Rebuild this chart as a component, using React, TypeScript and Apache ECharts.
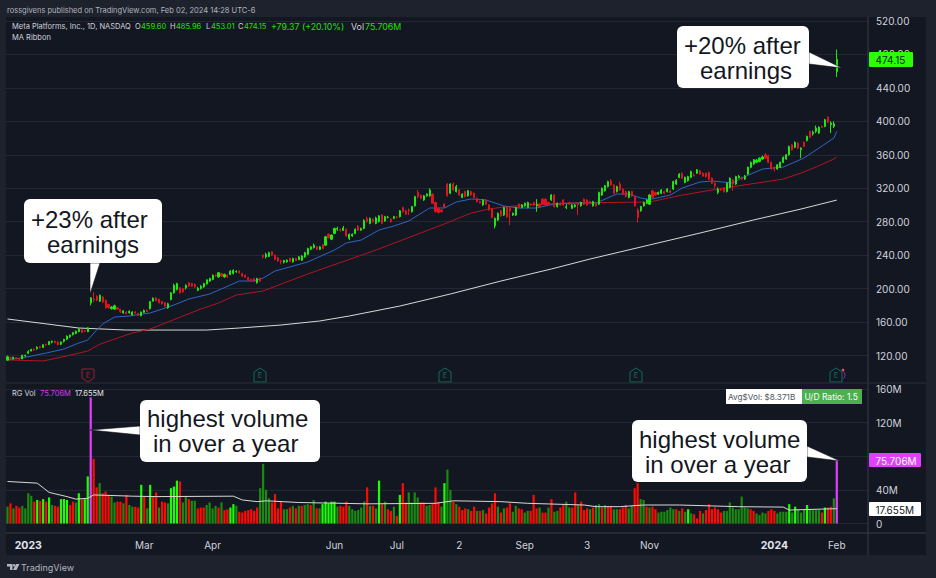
import React, { useEffect, useRef } from "react";
import * as echarts from "echarts";

const BAR_SLOTS = 290;

const xLabels: Record<number, string> = {
  7: "{b|2023}", 46: "Mar", 69: "Apr", 110: "Jun", 131: "Jul", 152: "2",
  174: "Sep", 195: "3", 216: "Nov", 258: "{b|2024}", 279: "Feb",
};

// open, close, low, high
const candles: number[][] = [
  [114.5,118.5,114,120],[117.5,117.1,115,118.5],[116,118,115.5,118.5],[117.5,116.9,115.5,118],[116.5,115.6,115,117],[116,120.3,115.8,121],[119.5,120.3,118.5,121],[122.8,124.7,122,126.5],[125.5,127.4,125,128],[127.5,126.9,125.5,128.5],
  [128,130,127,131],[130.5,129.5,128.5,131.5],[129.5,133,129,133.5],[133.5,132.9,131.5,134],[133,136.7,132.8,137],[136,137,134.5,138],[137,135.4,134.5,138],[136,133,132.5,137],[133.5,136.2,132.5,137],[137,139.4,135.5,140],
  [139.5,143.3,138.5,144],[142.5,144.5,141,145],[145,147.5,144,148],[146.5,149,145.5,150],[148.5,152,148,153],[151,147.5,147,152],[149.5,149,148,150.5],[148.5,153.1,148,154],[182.8,189,180,190],[187.5,186.5,184,196],
  [191,186,185,192],[185,192,184,193],[190,184,183,191],[186,177,176,187],[181,177.5,176,182],[176,178,175,179],[175.5,179.5,175,181],[177,175.5,175,178],[175,172.5,171,176],[171,173.5,170,174],
  [172,170,169.5,173],[171,173,170,174],[168.5,172,168,173],[172,171,170,173],[170.5,168,167.5,171],[167.5,172,167,172.5],[171.5,174,171,175],[174,172.5,172,175],[176,184.5,175,185],[185,188.5,184.5,189.5],
  [188.5,185.5,185,190],[187.5,183,182.5,188],[184.5,182,181,185],[183,179,178,184],[177,182,176,183],[187,195,186,196],[195,204,194,206],[199,206,198,207],[201,195,194,202],[200,196,195,201],
  [201,204,199,205],[207,203,202,208],[206,203,202,207],[205,202,201,206],[198,200.5,197,202],[200,203,199,204],[202,206,201,207],[205.5,210.5,205,211],[209,212,208,213],[211,216,210,217],
  [216,215.5,214,217],[214,219,213,220],[218,215,214,219],[214,217,213,218],[216,214,213,217],[217,221,216,222],[218,222,217,223],[220,220.5,219,222],[221,219,218,222],[218,215,214,219],
  [216,213.5,213,217],[213,210,209,214],[211,209.5,209,212],[212,209,208,213],[207,212,206,213],[212,209,208,213],[240,238,236,241],[238,241,236,243],[238.5,243,238,244],[244,240,239,245],
  [240,235,234,241],[237,233,232,238],[233,232.5,229,234.5],[231.5,233.5,230,234.5],[232,234,231,235],[236,232.5,232,237],[232,236,231,237],[236,233.5,233,237],[234.5,238,234,239],[234,239,233,240],
  [238,243,237,244],[241,248,240,249],[247,250,246,251],[249,252,248,254],[250,247,246,251],[247,250,246,251],[252.5,248,247,253],[252,262,251,263],[265,261,260,266],[259,264,258,265],
  [266,272,265,273],[271,272,269,274],[270.5,270,268,272],[269.5,272.5,269,275],[271,263,262,272],[260,265,258,266],[263,265,262,266],[266,271,265,272],[274.5,269.5,269,276],[270,272,269,273],
  [272,281.5,271,283],[284,280,279,286],[278,284,277,285],[283,280,279,284],[278,284.5,277,286],[280,287,279,288],[288,278,277,289],[281,286,280,287],[285,285.5,284,287],[283,280,279,284],
  [284,286,283,287],[285.5,285,284,287],[286,293,285,294],[297,292,291,298],[293,289,288,294],[294,293,288,296],[292,298,291,299],[299,310,298,311],[315,310,308,318],[311,308,307,313],
  [306,311,305,312],[311,313,310,314],[311,318,310,320],[313,302,301,314],[303,292,291,304],[296,291,290,297],[294,292,291,295],[301,297,296,302],[325,311,310,326],[314,325,313,326],
  [325,318,317,327],[316,322,315,324],[318,312,311,319],[309,313,308,314],[316,310,309,317],[311,317,310,318],[316,312,311,317],[314,309,308,315],[308,304,303,309],[304,302.5,302,305],
  [300,306,299,307],[306,301,300,307],[300,295,293,301],[295,285,284,296],[275,284,272,285],[282,290,281,291],[293,287,286,294],[288,297,287,298],[298,286,285,299],[296,293,276,298],
  [288,290,287,291],[288,297,287,298],[301,297,296,302],[297,300,296,301],[299,302,298,303],[297,303,296,304],[301,300,299,302],[303,300,299,304],[299,301,292,307],[301,298,297,302],
  [307,301,300,308],[307,300,299,308],[303,301,300,304],[306,312,305,313],[312,298,297,313],[298,302,297,303],[302,300,299,303],[306,300,299,307],[297,298,295,301],[303,301,300,304],
  [296,300,295,301],[298,300,297,301],[302,300,288,303],[299,303,298,304],[307,301,300,308],[306,300,299,307],[304,302,301,305],[299,304,298,305],[302,299,298,303],[301,315,300,316],
  [312,320,311,321],[317,323,316,324],[322,328,321,329],[329,324,323,331],[324,314,313,325],[316,322,315,323],[325,318,317,328],[319,313,312,320],[316,310,309,317],[309,316,308,317],
  [316,311,310,317],[310,299,298,311],[294,285,279,296],[293,298,292,299],[299,303,298,304],[302,306,301,307],[301,312,300,313],[317,309,308,318],[315,312,311,316],[313,315,312,316],
  [314,318,313,319],[316,314,313,317],[316,319,315,320],[317,315,314,318],[319,328,318,329],[325,329.5,324,331],[333,337,332,338],[338,332,331,339],[327,333,326,334],[329,334,328,335],
  [333,340,332,341],[335.5,335,334,338],[338,342,337,343],[341,337,336,342],[338,334.5,334,339],[338,334,333,339],[339,331,330,340],[332,326,325,333],[326,323,320,327],[315,319,313,321],
  [319,318,317,320],[320,316,315,321],[316,326,315,327],[321,332,320,333],[330,325,317,331],[325,334,324,335],[332.5,334.5,332,336],[333,331,330,334],[331,334.5,330,336],[337,345,336,346],
  [345,351,344,352],[349,354,348,355],[351,353.5,350,355],[352,356,351,357],[355,357.5,354,359],[360,356,355,362],[359,351,350,360],[351,344,342,352],[345,343,340,346],[343,348,342,349],
  [345,351,344,352],[351,357,350,358],[355,360,354,361],[360,370,359,371],[372,366,365,373],[369,375,368,376],[374,368,367,375],[366,368,356,369],[375,370,369,376],[377,382,376,383],
  [388,381,380,389],[385,387,383,389],[388,392,386,395],[386,393,385,394],[394,393,392,395],[394,402,393,403],[405,399,398,406],[396,398,386,400],[394,397,392,400],[459.6,474.15,453.01,485.96],
];

// [bar index, price]
const maBlue: number[][] = [[0,114.7],[6,117.9],[13,123],[19,127.8],[24,135],[27,138.6],[30,150.5],[32,157.7],[36,166],[41,167.3],[48,170.9],[53,176.8],[56,180.4],[61,187.6],[68,193.6],[75,204.3],[78,209.1],[83,209.1],[86,212.7],[90,221.1],[95,225.9],[101,231.9],[110,246.2],[114,254.6],[119,258.1],[125,270.1],[130,274.9],[135,280.9],[142,296.4],[147,296.4],[151,303.6],[156,307.2],[161,306],[167,298.8],[172,296.4],[178,296.4],[184,301.2],[192,302.4],[198,302.4],[205,313.1],[209,313.1],[213,308.4],[216,306.5],[223,311.9],[227,320.3],[233,327.5],[237,328.7],[244,326.3],[247,332.3],[254,343],[261,345.4],[268,356.2],[273,368.1],[278,380],[279,388]];
const maRed: number[][] = [[0,114.7],[12,113.5],[20,119.5],[27,125.4],[31,133.4],[37,140.9],[42,146.9],[48,151.7],[65,175.6],[71,182.8],[77,192.4],[86,197.2],[93,206.7],[101,217.5],[124,246.2],[131,255.7],[139,266.5],[147,277.3],[156,290.4],[162,295.2],[167,297.6],[174,300],[189,302.4],[216,303.6],[227,311.9],[239,319.1],[250,325.1],[261,331],[267,338.3],[272,345.4],[278,355],[279,357.4]];
const maWhite: number[][] = [[0,163.7],[24,152.9],[40,150.5],[67,150.5],[78,152.9],[92,156.5],[105,161.3],[115,167.3],[132,179.2],[149,193.6],[166,209.1],[183,223.5],[196,235.4],[206,243.8],[216,252.2],[233,266.5],[251,282.1],[267,295.2],[279,305.9]];

// volume in millions
const volumes: number[] = [
  20,24,18,21,19,21,18,36,33,26, 28,27,29,26,31,22,21,20,29,29,
  28,22,26,25,36,29,29,56,150,77, 43,48,36,38,34,32,25,26,26,24,
  34,22,20,20,19,46,32,18,46,32, 37,19,26,25,24,42,44,51,50,25,
  32,29,27,27,18,19,19,22,25,18, 21,19,25,16,17,19,23,21,14,13,
  15,16,17,15,19,42,71,40,30,25, 35,18,26,17,17,19,21,18,21,21,
  22,23,22,28,18,18,23,26,24,26, 26,20,21,20,26,21,17,15,16,19,
  26,43,21,21,18,51,23,26,17,15, 20,9,34,48,25,37,25,37,31,25,
  25,21,22,23,43,25,20,48,64,40, 26,23,20,16,18,17,15,20,15,15,
  16,12,19,24,36,20,13,18,19,24, 14,21,18,17,13,15,15,34,18,19,
  13,13,19,29,14,15,19,22,26,19, 19,37,22,26,16,18,17,19,22,23,
  19,22,21,21,17,17,17,19,22,18, 21,42,48,29,28,20,19,20,17,13,
  14,14,16,19,17,17,15,18,14,17, 12,11,6,15,12,16,23,17,19,17,
  13,15,15,25,19,17,17,32,19,18, 17,15,12,10,13,12,15,17,15,12,
  14,14,14,23,13,20,17,13,17,22, 17,16,16,16,13,19,19,20,30,75.706,
];
const volumeTones =
  "gRgRRggggR" + "GRGRGgRRGG" + "GRRgGRGGMR" + "RgRRRggRRg" + "RggRRGRgGR" + "RgRRgGGGRg" + "gRggRRRggg" +
  "gRgRRGGgRR" + "RRRRRggggR" + "RRRggRgRgR" + "ggRgRgGGGG" + "GgRRRggggg" + "gRgRgGRgRR" + "gRGRRggggR" +
  "RggRRRgGgg" + "RgRRRgRRgR" + "gRRRRgRgRR" + "ggRRggRRRg" + "RRgRggRRgg" + "RRgRRRgRgg" + "RgRRggRRRg" +
  "gRRggRgRRg" + "gggggRgRgG" + "gRRRgRRRRR" + "Rggggggggg" + "RRggggRRRg" + "gggGgGgggG" + "ggggRGRRgM";
const volumeMa: number[][] = [[0,50],[10,48],[12,42.5],[14,37],[20,32],[23,29],[27,30],[29,34],[42,32.5],[50,32],[76,32.5],[79,28],[84,26],[87,27],[98,25],[121,23.4],[144,24],[150,27],[166,26],[175,24],[194,22],[198,20],[206,20],[214,22],[226,22],[246,20],[261,19.5],[263,16],[279,17.655]];

const earningsMarks = [
  { x: 88, miss: true }, { x: 260, miss: false }, { x: 445, miss: false }, { x: 636, miss: false }, { x: 836, miss: false },
];

const FONT = "Inter";
const CALL = "Liberation Sans";
const toneColor: Record<string, string> = { G: "#1cff00", g: "#1b8a10", R: "#ff0a00", M: "#e040fb" };

function label(text: string, x: number, y: number, fill: string, fontSize = 7.5, extra: any = {}) {
  return {
    type: "text", z: 60, x, y,
    style: { text, fill, fontSize, fontFamily: FONT, textAlign: "left", textVerticalAlign: "middle", ...extra },
  };
}
function callLine(text: string, x: number, y: number) {
  return {
    type: "text", z: 82, x, y,
    style: { text, fill: "#131722", fontSize: 24, fontFamily: CALL, textAlign: "left", textVerticalAlign: "middle" },
  };
}
function callout(x: number, y: number, w: number, h: number, tail: number[][]) {
  const edge = { fill: "#ffffff", stroke: "#ffffff", lineWidth: 0 };
  return [
    { type: "polygon", z: 80, shape: { points: tail }, style: { fill: "#ffffff", stroke: "#0b0d12", lineWidth: 0.6 } },
    { type: "rect", z: 81, shape: { x, y, width: w, height: h, r: 6 }, style: edge },
  ];
}
function tag(text: string, x: number, y: number, w: number, h: number, bg: string, fg: string) {
  return [
    { type: "rect", z: 70, shape: { x, y, width: w, height: h, r: 1 }, style: { fill: bg } },
    { type: "text", z: 71, x: x + 6.5, y: y + h / 2 + 0.5, style: { text, fill: fg, fontSize: 10, fontFamily: FONT, textAlign: "left", textVerticalAlign: "middle" } },
  ];
}

export default function App() {
  const ref = useRef<HTMLDivElement>(null);
  useEffect(() => {
    document.body.style.margin = "0";
    const chart = echarts.init(ref.current!, undefined, { renderer: "svg" });
    const cats = Array.from({ length: BAR_SLOTS }, (_, i) => String(i));
    const frame = "#1e222d";
    const rule = "#3a3e4a";
    const marks: any[] = [];
    earningsMarks.forEach((m) => {
      const c = m.miss ? "#9c1f2e" : "#0f6b5f";
      const pts = m.miss
        ? [[m.x - 6, 369], [m.x + 6, 369], [m.x + 6, 378], [m.x, 382], [m.x - 6, 378]]
        : [[m.x, 368], [m.x + 6, 372], [m.x + 6, 382], [m.x - 6, 382], [m.x - 6, 372]];
      marks.push({ type: "polygon", z: 40, shape: { points: pts }, style: { fill: "#131722", stroke: c, lineWidth: 1 } });
      marks.push({ type: "text", z: 41, x: m.x, y: 375.5, style: { text: "E", fill: c, fontSize: 7.5, fontFamily: FONT, textAlign: "center", textVerticalAlign: "middle" } });
    });
    const option: any = {
      animation: false,
      backgroundColor: "#131722",
      grid: [
        { left: 6, top: 21, width: 862, height: 368 },
        { left: 6, top: 389, width: 862, height: 134.5 },
      ],
      xAxis: [
        { type: "category", gridIndex: 0, data: cats, show: false, boundaryGap: true },
        {
          type: "category", gridIndex: 1, data: cats, boundaryGap: true,
          axisLine: { show: false }, axisTick: { show: false }, splitLine: { show: false },
          axisLabel: {
            interval: (i: number) => i in xLabels,
            formatter: (_: string, i: number) => xLabels[i] ?? "",
            margin: 16, color: "#d1d4dc", fontSize: 10, fontFamily: FONT,
            rich: { b: { fontWeight: "bold", color: "#e4e6ec", fontSize: 10.5, fontFamily: FONT } },
          },
        },
      ],
      yAxis: [
        {
          type: "value", gridIndex: 0, position: "right", min: 80, max: 520, interval: 40,
          axisLine: { show: false }, axisTick: { show: false },
          splitLine: { lineStyle: { color: "#232733", width: 1 } },
          axisLabel: {
            margin: 8, color: "#d1d4dc", fontSize: 10, fontFamily: FONT,
            formatter: (v: number) => (v === 80 ? "" : v.toFixed(2)),
          },
        },
        {
          type: "value", gridIndex: 1, position: "right", min: 0, max: 160, interval: 40,
          axisLine: { show: false }, axisTick: { show: false },
          splitLine: { lineStyle: { color: "#232733", width: 1 } },
          axisLabel: {
            margin: 8, color: "#d1d4dc", fontSize: 10, fontFamily: FONT,
            formatter: (v: number) => (v === 0 ? "0" : v === 80 ? "" : `${v}M`),
          },
        },
      ],
      series: [
        { type: "line", xAxisIndex: 0, yAxisIndex: 0, data: maWhite, showSymbol: false, z: 1, lineStyle: { color: "#d8d8d8", width: 1 } },
        { type: "line", xAxisIndex: 0, yAxisIndex: 0, data: maRed, showSymbol: false, z: 1, lineStyle: { color: "#b01622", width: 1 } },
        { type: "line", xAxisIndex: 0, yAxisIndex: 0, data: maBlue, showSymbol: false, z: 1, lineStyle: { color: "#2f66c4", width: 1 } },
        {
          type: "candlestick", xAxisIndex: 0, yAxisIndex: 0, data: candles, barWidth: 1.6, z: 2,
          itemStyle: { color: "#20e80c", color0: "#e0141e", borderColor: "#20e80c", borderColor0: "#e0141e", borderWidth: 1 },
        },
        {
          type: "bar", xAxisIndex: 1, yAxisIndex: 1, barWidth: 2.2, z: 2,
          data: volumes.map((v, i) => ({ value: v, itemStyle: { color: toneColor[volumeTones[i]] } })),
        },
        { type: "line", xAxisIndex: 1, yAxisIndex: 1, data: volumeMa, showSymbol: false, z: 3, lineStyle: { color: "#d8d8d8", width: 1 } },
      ],
      graphic: {
        elements: [
          // frame around the panes
          { type: "rect", z: 50, shape: { x: 0, y: 0, width: 936, height: 17 }, style: { fill: frame } },
          { type: "rect", z: 50, shape: { x: 0, y: 555, width: 936, height: 23 }, style: { fill: frame } },
          { type: "rect", z: 50, shape: { x: 0, y: 0, width: 6, height: 578 }, style: { fill: frame } },
          { type: "rect", z: 50, shape: { x: 926, y: 0, width: 10, height: 578 }, style: { fill: frame } },
          { type: "line", z: 51, shape: { x1: 868, y1: 17, x2: 868, y2: 555 }, style: { stroke: rule, lineWidth: 1 } },
          { type: "line", z: 51, shape: { x1: 6, y1: 383, x2: 926, y2: 383 }, style: { stroke: "#2a2e39", lineWidth: 1 } },
          { type: "line", z: 51, shape: { x1: 6, y1: 533, x2: 926, y2: 533 }, style: { stroke: rule, lineWidth: 1 } },
          ...marks,
          { type: "circle", z: 42, shape: { cx: 843, cy: 370, r: 1.3 }, style: { fill: "#ef5350" } },
          { type: "arc", z: 42, shape: { cx: 840, cy: 375, r: 5, startAngle: -0.9, endAngle: 0.9 }, style: { stroke: "#8e24aa", fill: "none", lineWidth: 1 } },
          // header texts
          label("rossgivens published on TradingView.com, Feb 02, 2024 14:28 UTC-6", 7, 10, "#b2b5be"),
          label("Meta Platforms, Inc., 1D, NASDAQ", 12, 26.5, "#d1d4dc"),
          label("O", 135, 26.5, "#d1d4dc"), label("459.60", 141, 26.5, "#22e000"),
          label("H", 170, 26.5, "#d1d4dc"), label("485.96", 176, 26.5, "#22e000"),
          label("L", 206, 26.5, "#d1d4dc"), label("453.01", 211, 26.5, "#22e000"),
          label("C", 238, 26.5, "#d1d4dc"), label("474.15", 244, 26.5, "#22e000"),
          label("+79.37 (+20.10%)", 271, 26.5, "#22e000", 8.8),
          label("Vol", 351, 26.5, "#d1d4dc", 8.8), label("75.706M", 365, 26.5, "#22e000", 8.8),
          label("MA Ribbon", 12, 37.5, "#d1d4dc"),
          label("RG Vol", 12, 393, "#d1d4dc"), label("75.706M", 40, 393, "#d63be8"), label("17.655M", 75, 393, "#e8e8e8"),
          // logo and name
          { type: "polygon", z: 60, shape: { points: [[7, 564], [12.5, 564], [12.5, 570], [10, 570], [10, 566.5], [7, 566.5]] }, style: { fill: "#b2b5be" } },
          { type: "circle", z: 60, shape: { cx: 14, cy: 565.3, r: 1.3 }, style: { fill: "#b2b5be" } },
          { type: "polygon", z: 60, shape: { points: [[16, 564], [19.5, 564], [16.5, 570], [13, 570]] }, style: { fill: "#b2b5be" } },
          label("TradingView", 21, 567, "#b2b5be", 9),
          // value tags
          ...tag("474.15", 869, 52, 44, 15, "#2cff05", "#131722"),
          ...tag("75.706M", 869, 453, 52, 14, "#e040fb", "#ffffff"),
          ...tag("17.655M", 869, 502, 52, 14, "#ffffff", "#131722"),
          // volume stats
          { type: "rect", z: 60, shape: { x: 726, y: 389, width: 76, height: 15 }, style: { fill: "#ffffff" } },
          { type: "rect", z: 60, shape: { x: 802, y: 389, width: 60, height: 15 }, style: { fill: "#4caf50" } },
          { type: "text", z: 61, x: 728, y: 397, style: { text: "Avg$Vol: $8.371B", fill: "#50535e", fontSize: 8.2, fontFamily: FONT, textVerticalAlign: "middle" } },
          { type: "text", z: 61, x: 804.5, y: 397, style: { text: "U/D Ratio: 1.5", fill: "#ffffff", fontSize: 8.5, fontFamily: FONT, textVerticalAlign: "middle" } },
          // callouts
          ...callout(24, 199, 138, 64, [[90, 263], [100, 263], [90, 294]]),
          callLine("+23% after", 31, 219), callLine("earnings", 47, 244),
          ...callout(677, 26, 132, 62, [[809, 52], [809, 64], [842, 68]]),
          callLine("+20% after", 684, 45), callLine("earnings", 700, 70),
          ...callout(140, 400, 180, 62, [[140, 426], [140, 435], [90, 430]]),
          callLine("highest volume", 147, 418), callLine("in over a year", 153, 443),
          ...callout(632, 420, 175, 62, [[807, 446], [807, 457], [840, 461]]),
          callLine("highest volume", 639, 439), callLine("in over a year", 645, 464),
        ],
      },
    };
    chart.setOption(option);
    return () => chart.dispose();
  }, []);
  return <div ref={ref} style={{ width: 936, height: 578 }} />;
}
